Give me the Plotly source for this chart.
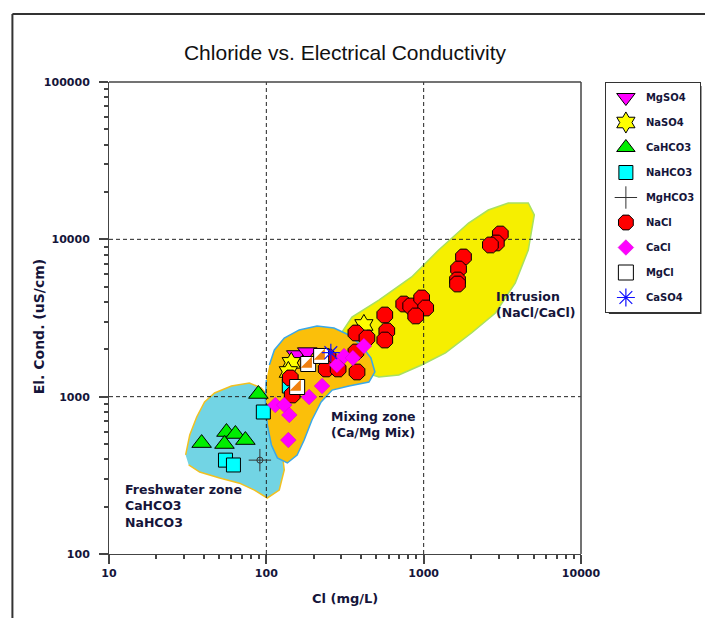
import plotly.graph_objects as go

# ---------------- data (Cl mg/L, EC uS/cm) ----------------
mgso4_cl = [155, 182]
mgso4_ec = [1840, 1920]

naso4_cl = [144, 138, 417]
naso4_ec = [1640, 1435, 2855]

cahco3_cl = [38.8, 55.8, 63.6, 54.2, 73.6, 89]
cahco3_ec = [507, 596, 579, 500, 530, 1040]

nahco3_cl = [55, 61.8, 95.7, 140]
nahco3_ec = [395, 368, 799, 1169]

mghco3_cl = [91]
mghco3_ec = [395]

nacl_cl = [3070, 2897, 2655, 1791, 1666, 1641, 1641, 747, 827, 971, 1030, 890,
           566, 583, 566, 371, 436, 371, 377, 247, 240, 286, 146, 142]
nacl_ec = [10810, 9480, 9205, 7725, 6475, 5515, 5200, 3880, 3770, 4240, 3660, 3258,
           3304, 2614, 2291, 2540, 2360, 1923, 1435, 1787, 1500, 1500, 1025, 1315]

cacl_cl = [114, 130, 140, 187, 226, 138, 281, 312, 355, 417]
cacl_ec = [885, 885, 765, 995, 1169, 530, 1589, 1811, 1762, 2099]

mgcl_cl = [184.5, 223, 157]
mgcl_ec = [1613, 1814, 1152]

caso4_cl = [257]
caso4_ec = [1904]

# zone outlines
fresh_cl = [30.7, 32.6, 36.1, 40.5, 46.9, 60, 78, 92.9, 107.7, 120.8, 130, 120.8,
            101.4, 84, 67.5, 50.5, 37.7, 32.1]
fresh_ec = [426, 570, 743, 925, 1055, 1170, 1222, 1135, 953, 614, 342, 255,
            227, 255, 282, 304, 332, 368]

mix_cl = [104.5, 112.5, 130, 161.8, 210, 269, 335, 399, 462, 490, 449, 335, 262,
          223, 195, 174, 157, 136, 117.5, 107.7, 101.4, 98.6, 100]
mix_ec = [1589, 1982, 2360, 2655, 2811, 2730, 2466, 2128, 1762, 1435, 1239, 1170,
          1101, 925, 711, 530, 426, 379, 408, 493, 661, 953, 1276]

intr_cl = [303, 350, 519, 839, 1245, 1928, 2576, 3450, 4624, 5050, 4624, 3819,
           2858, 2013, 1377, 970, 695, 519, 417, 335, 303]
intr_ec = [2576, 3207, 4112, 5768, 8551, 12700, 15350, 17020, 17020, 14290, 8551,
           5272, 3404, 2540, 1897, 1589, 1374, 1334, 1435, 1710, 2128]

x_tickvals = [10, 100, 1000, 10000]
x_ticktext = ["10", "100", "1000", "10000"]
y_tickvals = [100, 1000, 10000, 100000]
y_ticktext = ["100", "1000", "10000", "100000"]
x_minor = [20, 30, 40, 50, 60, 70, 80, 90, 200, 300, 400, 500, 600, 700, 800, 900,
           2000, 3000, 4000, 5000, 6000, 7000, 8000, 9000]
y_minor = [200, 300, 400, 500, 600, 700, 800, 900, 2000, 3000, 4000, 5000, 6000, 7000,
           8000, 9000, 20000, 30000, 40000, 50000, 60000, 70000, 80000, 90000]

FONT = "Liberation Sans, Arial, sans-serif"
BFONT = "DejaVu Sans, Verdana, sans-serif"
TXT = "#15153a"
AX = "#444444"

fig = go.Figure()

# zones
fig.add_trace(go.Scatter(x=intr_cl, y=intr_ec, fill="toself", mode="lines",
                         fillcolor="#f6ef00", line=dict(color="#a8e060", width=1.5),
                         showlegend=False, hoverinfo="skip"))
fig.add_trace(go.Scatter(x=fresh_cl, y=fresh_ec, fill="toself", mode="lines",
                         fillcolor="#72d4e4", line=dict(color="#f2c020", width=1.5),
                         showlegend=False, hoverinfo="skip"))
fig.add_trace(go.Scatter(x=mix_cl, y=mix_ec, fill="toself", mode="lines",
                         fillcolor="#fbbf0a", line=dict(color="#3aa8e8", width=1.5),
                         showlegend=False, hoverinfo="skip"))

# dashed gridlines at the inner major ticks (drawn above the zones)
grid_x, grid_y = [], []
for v in x_tickvals[1:-1]:
    grid_x += [v, v, None]
    grid_y += [y_tickvals[0], y_tickvals[-1], None]
for v in y_tickvals[1:-1]:
    grid_x += [x_tickvals[0], x_tickvals[-1], None]
    grid_y += [v, v, None]
fig.add_trace(go.Scatter(x=grid_x, y=grid_y, mode="lines", showlegend=False,
                         hoverinfo="skip",
                         line=dict(color="#222222", width=1, dash="4px,3px")))

def pts(x, y, name, symbol, color, size, lc="#000000", lw=1, show=True, group=None):
    fig.add_trace(go.Scatter(x=x, y=y, mode="markers", name=name,
                             legendgroup=group or name, showlegend=show,
                             marker=dict(symbol=symbol, color=color, size=size,
                                         line=dict(color=lc, width=lw))))

pts(mgso4_cl, mgso4_ec, "MgSO4", "triangle-down", "#ff00ff", 17)
pts(naso4_cl, naso4_ec, "NaSO4", "hexagram", "#ffff00", 16)
pts(cahco3_cl, cahco3_ec, "CaHCO3", "triangle-up", "#00ee00", 17)
pts(nahco3_cl, nahco3_ec, "NaHCO3", "square", "#00ffff", 14)
pts(mghco3_cl, mghco3_ec, "MgHCO3", "cross-thin-open", "#333333", 16, lc="#333333", lw=1)
pts(mghco3_cl, mghco3_ec, "MgHCO3", "circle-open", "#333333", 6, lc="#333333", lw=1,
    show=False, group="MgHCO3")
pts(nacl_cl, nacl_ec, "NaCl", "octagon", "#ff0000", 17)
pts(cacl_cl, cacl_ec, "CaCl", "diamond", "#ff00ff", 12, lc="#d000d0", lw=0.5)
pts(mgcl_cl, mgcl_ec, "MgCl", "square", "#ffffff", 15)
pts(mgcl_cl, mgcl_ec, "MgCl", "triangle-se", "#f08010", 12.5, lw=0, show=False, group="MgCl")
pts(caso4_cl, caso4_ec, "CaSO4", "asterisk-open", "#1010ff", 15, lc="#1010ff", lw=1.2)

tickfont = dict(family=BFONT, size=11, color=TXT)

fig.update_xaxes(type="log", range=[1, 4], tickmode="array", tickvals=x_tickvals,
                 ticktext=["<b>%s</b>" % t for t in x_ticktext],
                 ticks="outside", ticklen=9, tickcolor=AX, tickwidth=1.5,
                 showline=True, linecolor=AX, showgrid=False, tickfont=tickfont,
                 minor=dict(tickmode="array", tickvals=x_minor, ticks="outside",
                            ticklen=4, tickcolor=AX, tickwidth=1.5))
fig.update_yaxes(type="log", range=[2, 5], tickmode="array", tickvals=y_tickvals,
                 ticktext=["<b>%s</b>&nbsp;&nbsp;" % t for t in y_ticktext],
                 ticks="outside", ticklen=9, tickcolor=AX, tickwidth=1.5,
                 showline=True, linecolor=AX, showgrid=False, tickfont=tickfont,
                 minor=dict(tickmode="array", tickvals=y_minor, ticks="outside",
                            ticklen=4, tickcolor=AX, tickwidth=1.5))

# page body has an 8px margin: figure is 8px smaller on the left/top side
fig.update_layout(
    width=705, height=610,
    margin=dict(l=101, r=130, t=74, b=64),
    paper_bgcolor="white", plot_bgcolor="white",
    font=dict(family=FONT, color=TXT),
    title=dict(text="Chloride vs. Electrical Conductivity", x=0.5, xref="paper",
               xanchor="center", y=1 - 45 / 610, yref="container", yanchor="middle",
               font=dict(family=FONT, size=21, color="#111111")),
    legend=dict(x=1.0506, xanchor="left", y=1, yanchor="top",
                bgcolor="white", bordercolor="#333333", borderwidth=1,
                font=dict(family=BFONT, size=10, color=TXT, weight="bold"),
                traceorder="grouped", tracegroupgap=6, itemsizing="trace"),
    annotations=[
        dict(text="Cl (mg/L)", xref="paper", yref="paper", x=0.5, y=(554 - 598) / 472,
             showarrow=False, xanchor="center", yanchor="middle",
             font=dict(family=BFONT, size=13, color=TXT, weight="bold")),
        dict(text="El. Cond. (uS/cm)", xref="paper", yref="paper", x=(39 - 109) / 474,
             y=(554 - 327) / 472, textangle=-90, showarrow=False,
             xanchor="center", yanchor="middle",
             font=dict(family=BFONT, size=14, color=TXT, weight="bold")),
        dict(text="Freshwater zone<br>CaHCO3<br>NaHCO3", xref="paper", yref="paper",
             x=(123 - 109) / 474, y=(554 - 480) / 472, xanchor="left", yanchor="top",
             align="left", showarrow=False,
             font=dict(family=BFONT, size=12.5, color=TXT, weight="bold")),
        dict(text="Mixing zone<br>(Ca/Mg Mix)", xref="paper", yref="paper",
             x=(330 - 109) / 474, y=(554 - 407) / 472, xanchor="left", yanchor="top",
             align="left", showarrow=False,
             font=dict(family=BFONT, size=12.5, color=TXT, weight="bold")),
        dict(text="Intrusion<br>(NaCl/CaCl)", xref="paper", yref="paper",
             x=(496 - 109) / 474, y=(554 - 287) / 472, xanchor="left", yanchor="top",
             align="left", showarrow=False,
             font=dict(family=BFONT, size=12.5, color=TXT, weight="bold")),
    ],
    shapes=[
        # plot frame: top and right sides
        dict(type="line", xref="paper", yref="paper", x0=0, x1=1, y0=1, y1=1,
             line=dict(color=AX, width=1.5)),
        dict(type="line", xref="paper", yref="paper", x0=1, x1=1, y0=0, y1=1,
             line=dict(color=AX, width=1.5)),
        # outer frame: left and top sides
        dict(type="line", xref="paper", yref="paper",
             x0=(12 - 109) / 474, x1=(12 - 109) / 474,
             y0=(554 - 640) / 472, y1=(554 - 14) / 472,
             line=dict(color="#333333", width=2)),
        dict(type="line", xref="paper", yref="paper",
             x0=(12 - 109) / 474, x1=(730 - 109) / 474,
             y0=(554 - 14) / 472, y1=(554 - 14) / 472,
             line=dict(color="#333333", width=2)),
        # legend shadow
        dict(type="rect", xref="paper", yref="paper",
             x0=(611 - 109) / 474, x1=(704 - 109) / 474,
             y0=(554 - 314) / 472, y1=(554 - 86) / 472,
             line=dict(width=0), fillcolor="#333333", layer="above"),
    ],
)

fig.write_html("out.html")
